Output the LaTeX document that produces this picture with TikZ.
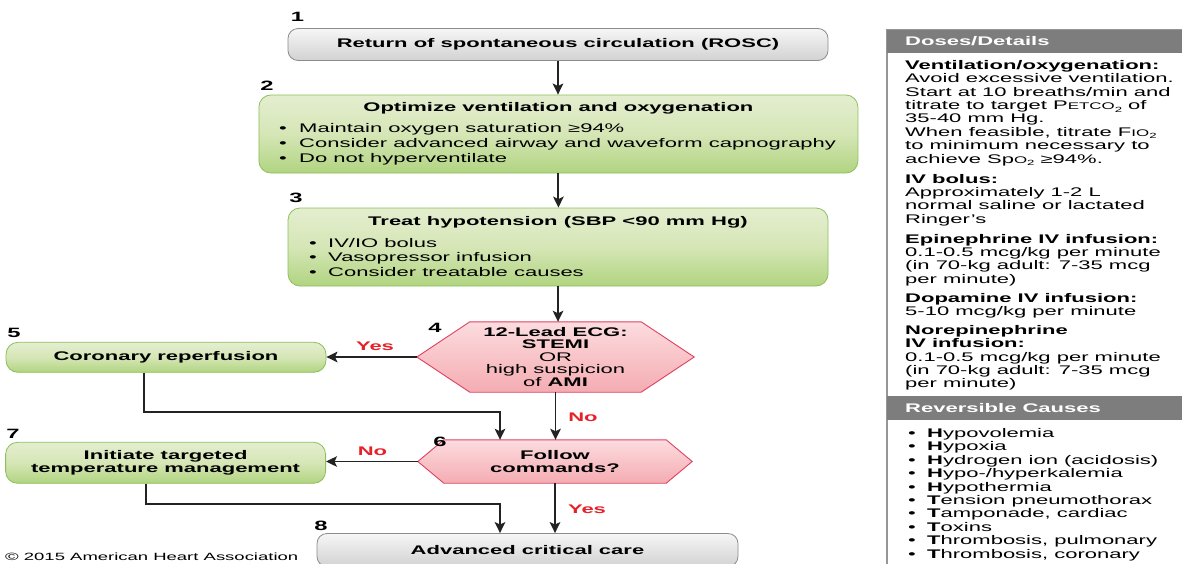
\documentclass[tikz,border=0pt]{standalone}
\usepackage{fontspec}
\setmainfont{Liberation Sans}[FakeStretch=1.76]
\usetikzlibrary{arrows.meta,calc}
\pgfdeclarelayer{background}
\pgfsetlayers{background,main}
\definecolor{grayborder}{RGB}{140,140,140}
\definecolor{graytop}{RGB}{246,246,246}
\definecolor{graybot}{RGB}{210,210,210}
\definecolor{greentop}{RGB}{228,238,208}
\definecolor{greenmid}{RGB}{214,230,182}
\definecolor{greenbot}{RGB}{176,212,128}
\definecolor{greenborder}{RGB}{140,192,90}
\definecolor{pinktop}{RGB}{252,220,223}
\definecolor{pinkbot}{RGB}{244,172,178}
\definecolor{pinkborder}{RGB}{222,66,96}
\definecolor{ahared}{RGB}{232,32,40}
\definecolor{panelhead}{RGB}{125,125,125}
\definecolor{panelborder}{RGB}{150,150,150}
\definecolor{arrowcol}{RGB}{35,35,35}
\newcommand{\fntbox}{\fontsize{12.5pt}{14.7pt}\selectfont}
\newcommand{\fnthex}{\fontsize{12.5pt}{12.5pt}\selectfont}
\newcommand{\fntpanel}{\fontsize{12.5pt}{13.4pt}\selectfont}
\newcommand{\fntcopy}{\fontsize{10.5pt}{12pt}\selectfont}
\newcommand{\fntnum}{\fontsize{13.5pt}{14pt}\selectfont\bfseries}
\newcommand{\bulA}{\makebox[20pt][l]{•}}
\newcommand{\bulB}{\makebox[19pt][l]{•}}
\newcommand{\smallc}[1]{{\fontsize{9.6pt}{10pt}\selectfont #1}}
\newcommand{\subtwo}{\raisebox{-2.6pt}{\fontsize{7.5pt}{8pt}\selectfont 2}}
\begin{document}
\begin{tikzpicture}[x=1pt,y=-1pt,
  graybox/.style={draw=grayborder, line width=0.8pt, rounded corners=10pt, top color=graytop, bottom color=graybot, inner sep=0pt, font=\fntbox\bfseries},
  greenbox/.style={draw=greenborder, line width=0.8pt, rounded corners=12pt, top color=greentop, bottom color=greenbot, middle color=greenmid, inner sep=0pt, font=\fntbox\bfseries, align=center},
  hexshade/.style={draw=pinkborder, line width=0.9pt, top color=pinktop, bottom color=pinkbot},
  hexnode/.style={inner sep=0pt, align=center, font=\fnthex},
  boxtitle/.style={inner sep=0pt, font=\fntbox\bfseries},
  boxlist/.style={inner sep=0pt, font=\fntbox, align=left, anchor=west},
  stepnum/.style={inner sep=0pt, font=\fntnum},
  lbl/.style={inner sep=0pt, text=ahared, font=\fntbox\bfseries},
  arr/.style={draw=arrowcol, line width=1.9pt, -{Stealth[length=11pt,width=10.5pt,inset=2.5pt]}},
  paneltext/.style={inner sep=0pt, font=\fntpanel, align=left, anchor=north west},
  panelhd/.style={inner sep=0pt, font=\fntbox\bfseries, text=white, anchor=west}]
\useasboundingbox (0,0) rectangle (1182,563);
\begin{pgfonlayer}{background}
\fill[white] (0,0) rectangle (1182,563);
\end{pgfonlayer}

% main column boxes
\node[graybox, minimum width=540pt, minimum height=32pt] (r1) at (558,44.5) {Return of spontaneous circulation (ROSC)};
\node[greenbox, minimum width=599pt, minimum height=78pt] (r2) at (558.4,134) {};
\node[boxtitle] (r2t) at (558.4,108.5) {Optimize ventilation and oxygenation};
\node[boxlist] (r2l) at (279,144.3) {\bulA Maintain oxygen saturation ≥94\%\\\bulA Consider advanced airway and waveform capnography\\\bulA Do not hyperventilate};
\node[greenbox, minimum width=540pt, minimum height=78pt] (r3) at (558,247) {};
\node[boxtitle] (r3t) at (558,222.3) {Treat hypotension (SBP <90 mm Hg)};
\node[boxlist] (r3l) at (309,257.5) {\bulB IV/IO bolus\\\bulB Vasopressor infusion\\\bulB Consider treatable causes};

% decisions
\node[hexnode, minimum width=277pt, minimum height=70pt] (d4) at (555.5,357) {\textbf{12-Lead ECG:}\\\textbf{STEMI}\\OR\\high suspicion\\of \textbf{AMI}};
\node[hexnode, minimum width=274pt, minimum height=43pt, font=\fnthex\bfseries] (d6) at (555,461.5) {Follow\\commands?};
\begin{pgfonlayer}{background}
\path[hexshade] (d4.west) -- ($(d4.north west)+(53,0)$) -- ($(d4.north east)+(-53,0)$) -- (d4.east) -- ($(d4.south east)+(-53,0)$) -- ($(d4.south west)+(53,0)$) -- cycle;
\path[hexshade] (d6.west) -- ($(d6.north west)+(26,0)$) -- ($(d6.north east)+(-26,0)$) -- (d6.east) -- ($(d6.south east)+(-26,0)$) -- ($(d6.south west)+(26,0)$) -- cycle;
\end{pgfonlayer}

% side boxes
\node[greenbox, minimum width=320pt, minimum height=30pt] (r5) at (166,357.3) {Coronary reperfusion};
\node[greenbox, minimum width=320pt, minimum height=41pt, font=\fnthex\bfseries] (r7) at (165.6,462.8) {Initiate targeted\\temperature management};
\node[graybox, minimum width=421pt, minimum height=33pt] (r8) at (527.5,550) {Advanced critical care};

% step numbers
\node[stepnum] (n1) at (297.5,16.5) {1};
\node[stepnum] (n2) at (267,86) {2};
\node[stepnum] (n3) at (296,197.5) {3};
\node[stepnum] (n4) at (435,328) {4};
\node[stepnum] (n5) at (14,333) {5};
\node[stepnum] (n6) at (440,441.5) {6};
\node[stepnum] (n7) at (13,434) {7};
\node[stepnum] (n8) at (321,526) {8};

% connectors
\draw[arr] (r1.south) -- (r1.south |- r2.north);
\draw[arr] (r2.south) -- (r2.south |- r3.north);
\draw[arr] (r3.south) -- (r3.south |- d4.north);
\draw[arr] (d4.west) -- (d4.west -| r5.east);
\draw[arr] ($(r5.south)+(-22.4,0)$) -- ++(0,39.4) -| ($(d6.north)+(-55,0)$);
\draw[arr] (d4.south) -- (d4.south |- d6.north);
\draw[arr] (d6.west) -- (d6.west -| r7.east);
\draw[arr] ($(r7.south)+(-19.7,0)$) -- ++(0,20.7) -| ($(r8.north)+(-27.5,0)$);
\draw[arr] (d6.south) -- (d6.south |- r8.north);

% connector labels
\node[lbl] (yes1) at (375,346) {Yes};
\node[lbl] (no1) at (583,417) {No};
\node[lbl] (no2) at (372.5,451.5) {No};
\node[lbl] (yes2) at (587,509) {Yes};

% copyright
\node[inner sep=0pt, font=\fntcopy, anchor=base west] (copy) at (5,560.5) {© 2015 American Heart Association};

% right panel
\draw[panelborder, line width=1.3pt] (887,29.5) rectangle (1200,600);
\fill[panelhead] (887,29.5) rectangle (1200,53);
\fill[panelhead] (887,396) rectangle (1200,420);
\node[panelhd] (ph1) at (905,41.5) {Doses/Details};
\node[panelhd] (ph2) at (905,408) {Reversible Causes};
\node[paneltext] (pbody) at (905,60) {\textbf{Ventilation/oxygenation:}\\
Avoid excessive ventilation.\\
Start at 10 breaths/min and\\
titrate to target P\smallc{ETCO}\subtwo{} of\\
35-40 mm Hg.\\
When feasible, titrate F\smallc{IO}\subtwo\\
to minimum necessary to\\
achieve Sp\smallc{O}\subtwo{} ≥94\%.\\[6.6pt]
\textbf{IV bolus:}\\
Approximately 1-2 L\\
normal saline or lactated\\
Ringer’s\\[6.4pt]
\textbf{Epinephrine IV infusion:}\\
0.1-0.5 mcg/kg per minute\\
(in 70-kg adult: 7-35 mcg\\
per minute)\\[5.6pt]
\textbf{Dopamine IV infusion:}\\
5-10 mcg/kg per minute\\[5.3pt]
\textbf{Norepinephrine}\\
\textbf{IV infusion:}\\
0.1-0.5 mcg/kg per minute\\
(in 70-kg adult: 7-35 mcg\\
per minute)};
\node[paneltext] (plist) at (908,428.2) {\bulB\textbf{H}ypovolemia\\
\bulB\textbf{H}ypoxia\\
\bulB\textbf{H}ydrogen ion (acidosis)\\
\bulB\textbf{H}ypo-/hyperkalemia\\
\bulB\textbf{H}ypothermia\\
\bulB\textbf{T}ension pneumothorax\\
\bulB\textbf{T}amponade, cardiac\\
\bulB\textbf{T}oxins\\
\bulB\textbf{T}hrombosis, pulmonary\\
\bulB\textbf{T}hrombosis, coronary};
\end{tikzpicture}
\end{document}
